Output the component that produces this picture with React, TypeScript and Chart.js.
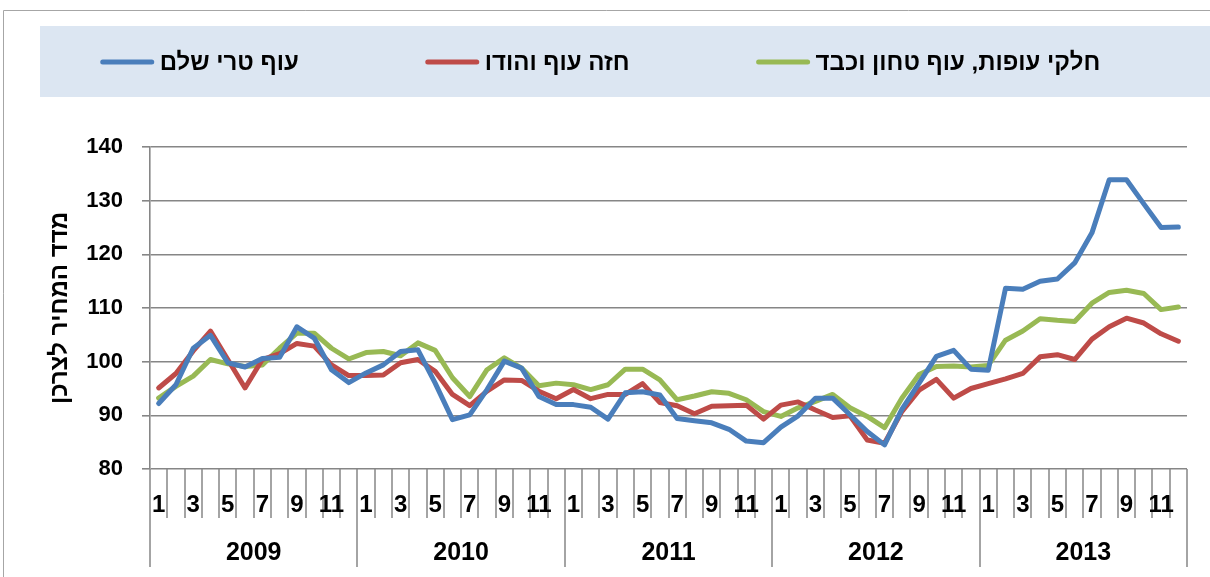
import React, { useEffect, useRef } from "react";
import { Chart, registerables } from "chart.js";

Chart.register(...registerables);

const years = ["2009", "2010", "2011", "2012", "2013"];
const monthTicks = ["1", "", "3", "", "5", "", "7", "", "9", "", "11", ""];

const seriesNames = ["עוף טרי שלם", "חזה עוף והודו", "חלקי עופות, עוף טחון וכבד"];

const wholeChicken = [
  92.2, 95.7, 102.5, 104.9, 99.8, 99.0, 100.6, 100.8, 106.5, 104.4, 98.5, 96.1,
  97.9, 99.4, 101.9, 102.2, 96.0, 89.2, 90.1, 94.8, 100.1, 98.8, 93.5, 92.0,
  92.0, 91.5, 89.3, 94.2, 94.4, 93.8, 89.4, 89.0, 88.6, 87.4, 85.2, 84.9,
  87.8, 89.9, 93.2, 93.2, 90.1, 87.0, 84.5, 91.1, 96.0, 101.0, 102.1, 98.6,
  98.4, 113.7, 113.5, 115.0, 115.4, 118.4, 124.0, 133.9, 133.9, 129.4, 125.0, 125.1,
];
const breastTurkey = [
  95.1, 97.8, 102.0, 105.7, 100.4, 95.1, 100.4, 101.5, 103.4, 102.9, 99.4, 97.4,
  97.4, 97.5, 99.8, 100.4, 98.2, 93.9, 91.8, 94.5, 96.6, 96.5, 94.5, 93.1,
  94.8, 93.1, 93.9, 93.9, 95.9, 92.4, 91.8, 90.3, 91.7, 91.8, 91.9, 89.3,
  91.9, 92.5, 91.0, 89.6, 89.9, 85.4, 84.8, 90.7, 94.7, 96.7, 93.2, 95.0,
  95.9, 96.8, 97.8, 100.9, 101.3, 100.4, 104.2, 106.5, 108.1, 107.2, 105.2, 103.8,
];
const partsGroundLiver = [
  93.2, 95.4, 97.3, 100.4, 99.6, 99.1, 99.4, 102.5, 105.3, 105.3, 102.5, 100.5,
  101.7, 101.9, 101.1, 103.5, 102.1, 97.0, 93.5, 98.5, 100.7, 98.8, 95.5, 96.0,
  95.7, 94.8, 95.7, 98.6, 98.6, 96.6, 92.9, 93.6, 94.4, 94.1, 92.9, 90.7,
  89.8, 91.4, 92.6, 93.9, 91.4, 89.8, 87.7, 93.2, 97.6, 99.1, 99.2, 99.0,
  99.3, 104.0, 105.7, 108.0, 107.7, 107.5, 110.9, 112.9, 113.3, 112.7, 109.7, 110.2,
];

const yTitle = "מדד המחיר לצרכן";
const yMin = 80;
const yMax = 140;
const yStep = 10;

const COLORS = ["#4A7EBB", "#BE4B48", "#98B954"];
const GRID = "#868686";
const LEGEND_BG = "#DCE6F2";
const FONT = "'Liberation Sans', Arial, 'DejaVu Sans', sans-serif";

const labels = years.flatMap((y) => monthTicks.map((m) => m));

const legendPlugin = {
  id: "customLegend",
  beforeDraw(chart: any) {
    const ctx = chart.ctx;
    ctx.save();
    ctx.strokeStyle = "#A6A6A6";
    ctx.lineWidth = 1;
    ctx.beginPath();
    ctx.moveTo(3.5, chart.height);
    ctx.lineTo(3.5, 10.5);
    ctx.lineTo(chart.width, 10.5);
    ctx.stroke();

    ctx.fillStyle = LEGEND_BG;
    ctx.fillRect(40, 26, chart.width - 40, 71);

    ctx.font = `bold 24px ${FONT}`;
    const lineLen = 55;
    const textGap = 5;
    const itemGap = 126;
    const dsets = chart.data.datasets;
    const widths = dsets.map(
      (d: any) => lineLen + textGap + ctx.measureText(d.label).width
    );
    const total = widths.reduce((a: number, b: number) => a + b, 0) + itemGap * (dsets.length - 1);
    let x = 600 - total / 2;
    const cy = 62;
    dsets.forEach((d: any, i: number) => {
      ctx.strokeStyle = d.borderColor;
      ctx.lineWidth = 5;
      ctx.lineCap = "round";
      ctx.beginPath();
      ctx.moveTo(x + 3, cy);
      ctx.lineTo(x + lineLen - 3, cy);
      ctx.stroke();
      ctx.fillStyle = "#000";
      ctx.textAlign = "left";
      ctx.textBaseline = "middle";
      ctx.fillText(d.label, x + lineLen + textGap, cy + 1);
      x += widths[i] + itemGap;
    });
    ctx.restore();
  },
};

const xGroupPlugin = {
  id: "xGroups",
  afterDraw(chart: any) {
    const { ctx, chartArea } = chart;
    const xs = chart.scales.x;
    const n = labels.length;
    const bottom = chartArea.bottom;
    ctx.save();
    ctx.strokeStyle = GRID;
    ctx.lineWidth = 1.5;
    for (let i = 0; i <= n; i++) {
      const px = Math.round(xs.getPixelForValue(i - 0.5));
      const isYear = i % monthTicks.length === 0;
      ctx.beginPath();
      ctx.moveTo(px, bottom);
      ctx.lineTo(px, bottom + (isYear ? 98 : 49));
      ctx.stroke();
    }
    ctx.fillStyle = "#000";
    ctx.textAlign = "center";
    ctx.textBaseline = "middle";
    ctx.font = `bold 24px ${FONT}`;
    labels.forEach((l, i) => {
      if (l) ctx.fillText(l, xs.getPixelForValue(i), bottom + 36);
    });
    ctx.font = `bold 25px ${FONT}`;
    const per = monthTicks.length;
    years.forEach((y, k) => {
      const a = xs.getPixelForValue(k * per - 0.5);
      const b = xs.getPixelForValue(k * per + per - 0.5);
      ctx.fillText(y, (a + b) / 2, bottom + 84);
    });
    ctx.restore();
  },
};

export default function App() {
  const ref = useRef<HTMLCanvasElement | null>(null);
  useEffect(() => {
    if (!ref.current) return;
    Chart.defaults.font.family = FONT;
    const series = [wholeChicken, breastTurkey, partsGroundLiver];
    const chart = new Chart(ref.current, {
      type: "line",
      data: {
        labels,
        datasets: series.map((data, i) => ({
          label: seriesNames[i],
          data,
          borderColor: COLORS[i],
          backgroundColor: COLORS[i],
          borderWidth: 5,
          pointRadius: 0,
          tension: 0,
          borderJoinStyle: "round" as const,
          borderCapStyle: "round" as const,
        })),
      },
      options: {
        responsive: false,
        animation: false,
        devicePixelRatio: 1,
        layout: { padding: { top: 147, right: 23, bottom: 0, left: 0 } },
        plugins: {
          legend: { display: false },
          tooltip: { enabled: false },
        },
        scales: {
          x: {
            type: "category",
            offset: true,
            grid: { display: false },
            border: { display: false },
            ticks: { display: false },
            afterFit: (s: any) => {
              s.height = 108;
            },
          },
          y: {
            min: yMin,
            max: yMax,
            ticks: {
              stepSize: yStep,
              color: "#000",
              font: { size: 22, weight: "bold" },
              padding: 19,
            },
            grid: { color: GRID, lineWidth: 1.6, tickLength: 8 },
            border: { color: GRID, width: 1.6 },
            title: {
              display: true,
              text: yTitle,
              color: "#000",
              font: { size: 24, weight: "bold" },
              padding: { top: 46, bottom: 0 },
            },
            afterFit: (s: any) => {
              s.width = 150;
            },
          },
        },
      },
      plugins: [legendPlugin, xGroupPlugin],
    });
    return () => chart.destroy();
  }, []);
  return (
    <div style={{ position: "fixed", left: 0, top: 0, width: 1210, height: 577, background: "#fff" }}>
      <canvas ref={ref} width={1210} height={577} style={{ display: "block" }} />
    </div>
  );
}
